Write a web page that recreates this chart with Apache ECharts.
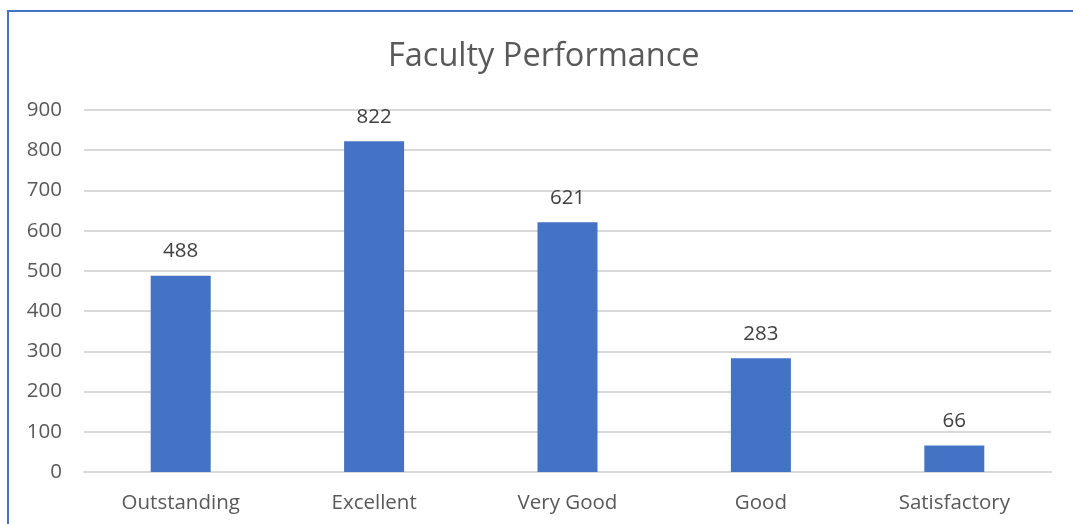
<!DOCTYPE html>
<html>
<head>
<meta charset="utf-8">
<script src="https://cdn.jsdelivr.net/npm/echarts@6/dist/echarts.min.js"></script>
<style>
  html, body { margin: 0; padding: 0; background: #fff; }
  #frame { position: absolute; left: 7px; top: 10px; right: 0; bottom: 0;
           border-left: 2px solid #4472c4; border-top: 2px solid #4472c4; }
  #chart { position: absolute; left: 0; top: 0; width: 1073px; height: 524px; }
</style>
</head>
<body>
<div id="frame"></div>
<div id="chart"></div>
<script>
// 教师绩效评级 — counts per rating
const categories = ['Outstanding', 'Excellent', 'Very Good', 'Good', 'Satisfactory'];
const counts = [488, 822, 621, 283, 66];

const FONT = '"Open Sans", "Noto Sans", sans-serif';
const chart = echarts.init(document.getElementById('chart'), null, { renderer: 'canvas' });

chart.setOption({
  animation: false,
  backgroundColor: 'transparent',
  title: {
    text: 'Faculty Performance',
    left: 383,
    top: 35,
    textStyle: { color: '#595959', fontSize: 32.5, fontWeight: 'normal', fontFamily: FONT },
  },
  grid: { left: 84, right: 22, top: 110, bottom: 52 },
  xAxis: {
    type: 'category',
    data: categories,
    axisLine: { lineStyle: { color: '#d9d9d9', width: 2 } },
    axisTick: { show: false },
    axisLabel: { color: '#595959', fontSize: 20.5, fontFamily: FONT, margin: 21 },
  },
  yAxis: {
    type: 'value',
    min: 0,
    max: 900,
    interval: 100,
    axisLine: { show: false },
    axisTick: { show: false },
    axisLabel: { color: '#595959', fontSize: 20.5, fontFamily: FONT, margin: 22 },
    splitLine: { lineStyle: { color: '#d9d9d9', width: 2 } },
  },
  series: [
    {
      type: 'bar',
      data: counts,
      barWidth: 60,
      itemStyle: { color: '#4472c4' },
      label: {
        show: true,
        position: 'top',
        distance: 14,
        color: '#404040',
        fontSize: 20.5,
        fontFamily: FONT,
      },
    },
  ],
});
</script>
</body>
</html>
